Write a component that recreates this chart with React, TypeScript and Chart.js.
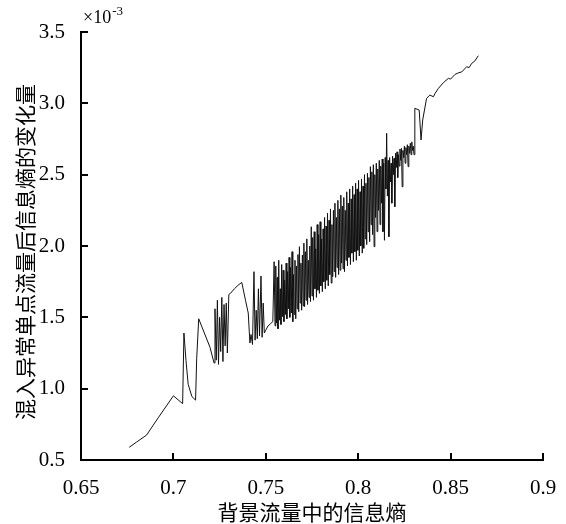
import React, { useEffect, useRef } from "react";
import { Chart, registerables } from "chart.js";

Chart.register(...registerables);

// ---- Data (y in units of 1e-3) ----
const rampPoints: [number, number][] = [
  [0.6761, 0.589], [0.6800, 0.625], [0.6855, 0.675], [0.6920, 0.800], [0.7000, 0.950],
  [0.7050, 0.895], [0.7057, 1.390], [0.7068, 1.200], [0.7080, 1.030], [0.7100, 0.945],
  [0.7120, 0.920], [0.7126, 1.210], [0.7137, 1.490], [0.7198, 1.290], [0.7220, 1.180],
];

const earlySpikePoints: [number, number][] = [
  [0.7225, 1.560], [0.7232, 1.200], [0.7238, 1.620], [0.7244, 1.170], [0.7250, 1.500],
  [0.7256, 1.260], [0.7262, 1.640], [0.7268, 1.190], [0.7274, 1.590], [0.7280, 1.300],
  [0.7286, 1.600], [0.7292, 1.250], [0.7300, 1.660], [0.7310, 1.670], [0.7330, 1.700],
  [0.7350, 1.725], [0.7370, 1.745], [0.7390, 1.620], [0.7405, 1.530], [0.7414, 1.320],
  [0.7420, 1.380], [0.7428, 1.310], [0.7436, 1.820], [0.7442, 1.340], [0.7448, 1.550],
  [0.7454, 1.350], [0.7460, 1.700], [0.7466, 1.370], [0.7474, 1.790], [0.7480, 1.360],
  [0.7486, 1.600], [0.7492, 1.390], [0.7500, 1.410], [0.7512, 1.440], [0.7525, 1.455],
  [0.7538, 1.470], [0.7545, 1.890],
];

const denseBandPoints: [number, number][] = [
  [0.7550, 1.440], [0.7554, 1.860], [0.7558, 1.460], [0.7562, 1.780], [0.7566, 1.420], [0.7570, 1.900], [0.7574, 1.480], [0.7578, 1.700], [0.7582, 1.450], [0.7586, 1.870],
  [0.7590, 1.505], [0.7594, 1.830], [0.7598, 1.470], [0.7602, 1.760], [0.7606, 1.520], [0.7610, 1.880], [0.7614, 1.490], [0.7618, 1.820], [0.7622, 1.560], [0.7626, 1.920],
  [0.7630, 1.500], [0.7634, 1.850], [0.7638, 1.530], [0.7642, 1.960], [0.7646, 1.470], [0.7650, 1.800], [0.7654, 1.520], [0.7658, 1.900], [0.7662, 1.490], [0.7666, 1.860],
  [0.7670, 1.560], [0.7674, 1.940], [0.7678, 1.540], [0.7682, 1.995], [0.7686, 1.600], [0.7690, 1.880], [0.7694, 1.550], [0.7698, 1.937], [0.7702, 1.580], [0.7706, 2.020],
  [0.7710, 1.575], [0.7714, 1.960], [0.7718, 1.620], [0.7722, 2.050], [0.7726, 1.590], [0.7730, 1.900], [0.7734, 1.640], [0.7738, 2.000], [0.7742, 1.610], [0.7746, 2.135],
  [0.7750, 1.650], [0.7754, 2.060], [0.7758, 1.620], [0.7762, 2.100], [0.7766, 1.700], [0.7770, 1.980], [0.7774, 1.640], [0.7778, 2.150], [0.7782, 1.690], [0.7786, 2.080],
  [0.7790, 1.668], [0.7794, 2.170], [0.7798, 1.720], [0.7802, 2.050], [0.7806, 1.680], [0.7810, 2.120], [0.7814, 1.750], [0.7818, 2.200], [0.7822, 1.700], [0.7826, 2.140],
  [0.7830, 1.760], [0.7834, 2.230], [0.7838, 1.720], [0.7842, 2.180], [0.7846, 1.800], [0.7850, 2.260], [0.7854, 1.740], [0.7858, 2.150], [0.7862, 1.785], [0.7866, 2.250],
  [0.7870, 1.820], [0.7874, 2.300], [0.7878, 1.780], [0.7882, 2.200], [0.7886, 1.850], [0.7890, 2.320], [0.7894, 1.800], [0.7898, 2.260], [0.7902, 1.830], [0.7906, 2.357],
  [0.7910, 1.880], [0.7914, 2.280], [0.7918, 1.840], [0.7922, 2.340], [0.7926, 1.820], [0.7930, 2.250], [0.7934, 1.900], [0.7938, 2.380], [0.7942, 1.860], [0.7946, 2.300],
  [0.7950, 1.920], [0.7954, 2.400], [0.7958, 1.870], [0.7962, 2.330], [0.7966, 1.950], [0.7970, 2.420], [0.7974, 1.890], [0.7978, 2.360], [0.7982, 1.960], [0.7986, 2.440],
  [0.7990, 1.900], [0.7994, 2.400], [0.7998, 1.970], [0.8002, 2.460], [0.8006, 1.930], [0.8010, 2.380], [0.8014, 2.000], [0.8018, 2.470], [0.8022, 1.950], [0.8026, 2.420],
  [0.8030, 1.984], [0.8034, 2.500], [0.8038, 2.050], [0.8042, 2.440], [0.8046, 2.010], [0.8050, 2.510], [0.8054, 2.100], [0.8058, 2.480], [0.8062, 2.030], [0.8066, 2.556],
  [0.8070, 2.150], [0.8074, 2.520], [0.8078, 2.080], [0.8082, 2.570], [0.8086, 1.995], [0.8090, 2.500], [0.8094, 2.200], [0.8098, 2.580], [0.8102, 2.100], [0.8106, 2.540],
  [0.8110, 2.250], [0.8114, 2.600], [0.8118, 2.150], [0.8122, 2.560], [0.8126, 2.300], [0.8130, 2.610], [0.8134, 2.100], [0.8138, 2.580], [0.8142, 2.040], [0.8146, 2.620],
  [0.8150, 2.400], [0.8154, 2.790], [0.8158, 2.350], [0.8162, 2.600], [0.8166, 2.065], [0.8170, 2.620], [0.8174, 2.450], [0.8178, 2.580], [0.8182, 2.300], [0.8186, 2.630],
  [0.8190, 2.500], [0.8194, 2.615], [0.8198, 2.275], [0.8202, 2.650], [0.8206, 2.550], [0.8210, 2.660], [0.8214, 2.480], [0.8218, 2.640], [0.8222, 2.560], [0.8226, 2.680],
  [0.8230, 2.600], [0.8234, 2.685], [0.8238, 2.415], [0.8242, 2.670], [0.8246, 2.620], [0.8250, 2.700], [0.8254, 2.580], [0.8258, 2.690], [0.8262, 2.640], [0.8266, 2.710],
  [0.8270, 2.556], [0.8274, 2.700], [0.8278, 2.650], [0.8282, 2.720], [0.8286, 2.640], [0.8290, 2.730], [0.8294, 2.670], [0.8298, 2.700], [0.8302, 2.640], [0.8306, 2.660],
];

const tailPoints: [number, number][] = [
  [0.8307, 2.965], [0.8330, 2.953], [0.8340, 2.743], [0.8349, 2.883], [0.8370, 3.035],
  [0.8388, 3.058], [0.8407, 3.046], [0.8416, 3.070], [0.8434, 3.105], [0.8461, 3.145],
  [0.8488, 3.175], [0.8500, 3.170], [0.8524, 3.203], [0.8545, 3.215], [0.8560, 3.220],
  [0.8575, 3.240], [0.8587, 3.257], [0.8600, 3.250], [0.8614, 3.280], [0.8630, 3.295],
  [0.8650, 3.334],
];

const xTickValues = [0.65, 0.7, 0.75, 0.8, 0.85, 0.9];
const yTickValues = [0.5, 1.0, 1.5, 2.0, 2.5, 3.0, 3.5];
const xTitle = "背景流量中的信息熵";
const yTitle = "混入异常单点流量后信息熵的变化量";
const exponentBase = "×10";
const exponentPower = "-3";

const SERIF = "'Liberation Serif', 'Times New Roman', serif";
const CJK = "'Noto Sans CJK SC', sans-serif";

const decorPlugin = {
  id: "decor",
  afterDraw(chart: any) {
    const { ctx, chartArea } = chart;
    const xs = chart.scales.x;
    const ys = chart.scales.y;
    ctx.save();
    ctx.strokeStyle = "#000";
    ctx.lineWidth = 2;
    const len = 7;
    xTickValues.forEach((v) => {
      const px = Math.round(xs.getPixelForValue(v));
      ctx.beginPath();
      ctx.moveTo(px, chartArea.bottom + 1);
      ctx.lineTo(px, chartArea.bottom - len);
      ctx.stroke();
    });
    yTickValues.forEach((v) => {
      const py = Math.round(ys.getPixelForValue(v));
      ctx.beginPath();
      ctx.moveTo(chartArea.left - 1, py);
      ctx.lineTo(chartArea.left + len, py);
      ctx.stroke();
    });
    // exponent label
    ctx.fillStyle = "#000";
    ctx.textBaseline = "alphabetic";
    ctx.textAlign = "left";
    ctx.font = `18px ${SERIF}`;
    const bx = chartArea.left + 2;
    const by = chartArea.top - 9;
    ctx.fillText(exponentBase, bx, by);
    const w = ctx.measureText(exponentBase).width;
    ctx.font = `13px ${SERIF}`;
    ctx.fillText(exponentPower, bx + w + 1, by - 8);
    // y-axis title
    ctx.font = `21px ${CJK}`;
    ctx.textAlign = "center";
    ctx.textBaseline = "middle";
    ctx.translate(25, 252);
    ctx.rotate(-Math.PI / 2);
    ctx.fillText(yTitle, 0, 0);
    ctx.restore();
  },
};

export default function App() {
  const ref = useRef<HTMLCanvasElement | null>(null);
  useEffect(() => {
    if (!ref.current) return;
    const allPoints = [...rampPoints, ...earlySpikePoints, ...denseBandPoints, ...tailPoints].map(
      ([x, y]) => ({ x, y })
    );
    const chart = new Chart(ref.current, {
      type: "line",
      data: {
        datasets: [
          {
            data: allPoints,
            borderColor: "#111",
            borderWidth: 1,
            pointRadius: 0,
            tension: 0,
            fill: false,
          },
        ],
      },
      options: {
        animation: false,
        responsive: false,
        layout: { padding: { top: 32, right: 23, left: 0, bottom: 0 } },
        plugins: { legend: { display: false }, tooltip: { enabled: false } },
        scales: {
          x: {
            type: "linear",
            min: 0.65,
            max: 0.9,
            afterBuildTicks(scale: any) {
              scale.ticks = xTickValues.map((v) => ({ value: v }));
            },
            afterFit(scale: any) {
              scale.height = 64;
            },
            grid: { display: false },
            border: { display: true, color: "#000", width: 2 },
            ticks: {
              color: "#000",
              padding: 8,
              font: { family: SERIF, size: 21 },
              maxRotation: 0,
              autoSkip: false,
              callback: (v: any) => String(parseFloat(Number(v).toFixed(2))),
            },
            title: {
              display: true,
              text: xTitle,
              color: "#000",
              font: { family: CJK, size: 21, lineHeight: 1 },
              padding: { top: 0, bottom: 1 },
            },
          },
          y: {
            type: "linear",
            min: 0.5,
            max: 3.5,
            afterBuildTicks(scale: any) {
              scale.ticks = yTickValues.map((v) => ({ value: v }));
            },
            afterFit(scale: any) {
              scale.width = 81;
            },
            grid: { display: false },
            border: { display: true, color: "#000", width: 2 },
            ticks: {
              color: "#000",
              padding: 8,
              font: { family: SERIF, size: 21 },
              autoSkip: false,
              callback: (v: any) => Number(v).toFixed(1),
            },
          },
        },
      },
      plugins: [decorPlugin],
    });
    return () => chart.destroy();
  }, []);
  return (
    <div style={{ position: "absolute", left: 0, top: 0, width: 566, height: 524, background: "#fff" }}>
      <canvas ref={ref} width={566} height={524} style={{ display: "block" }} />
    </div>
  );
}
